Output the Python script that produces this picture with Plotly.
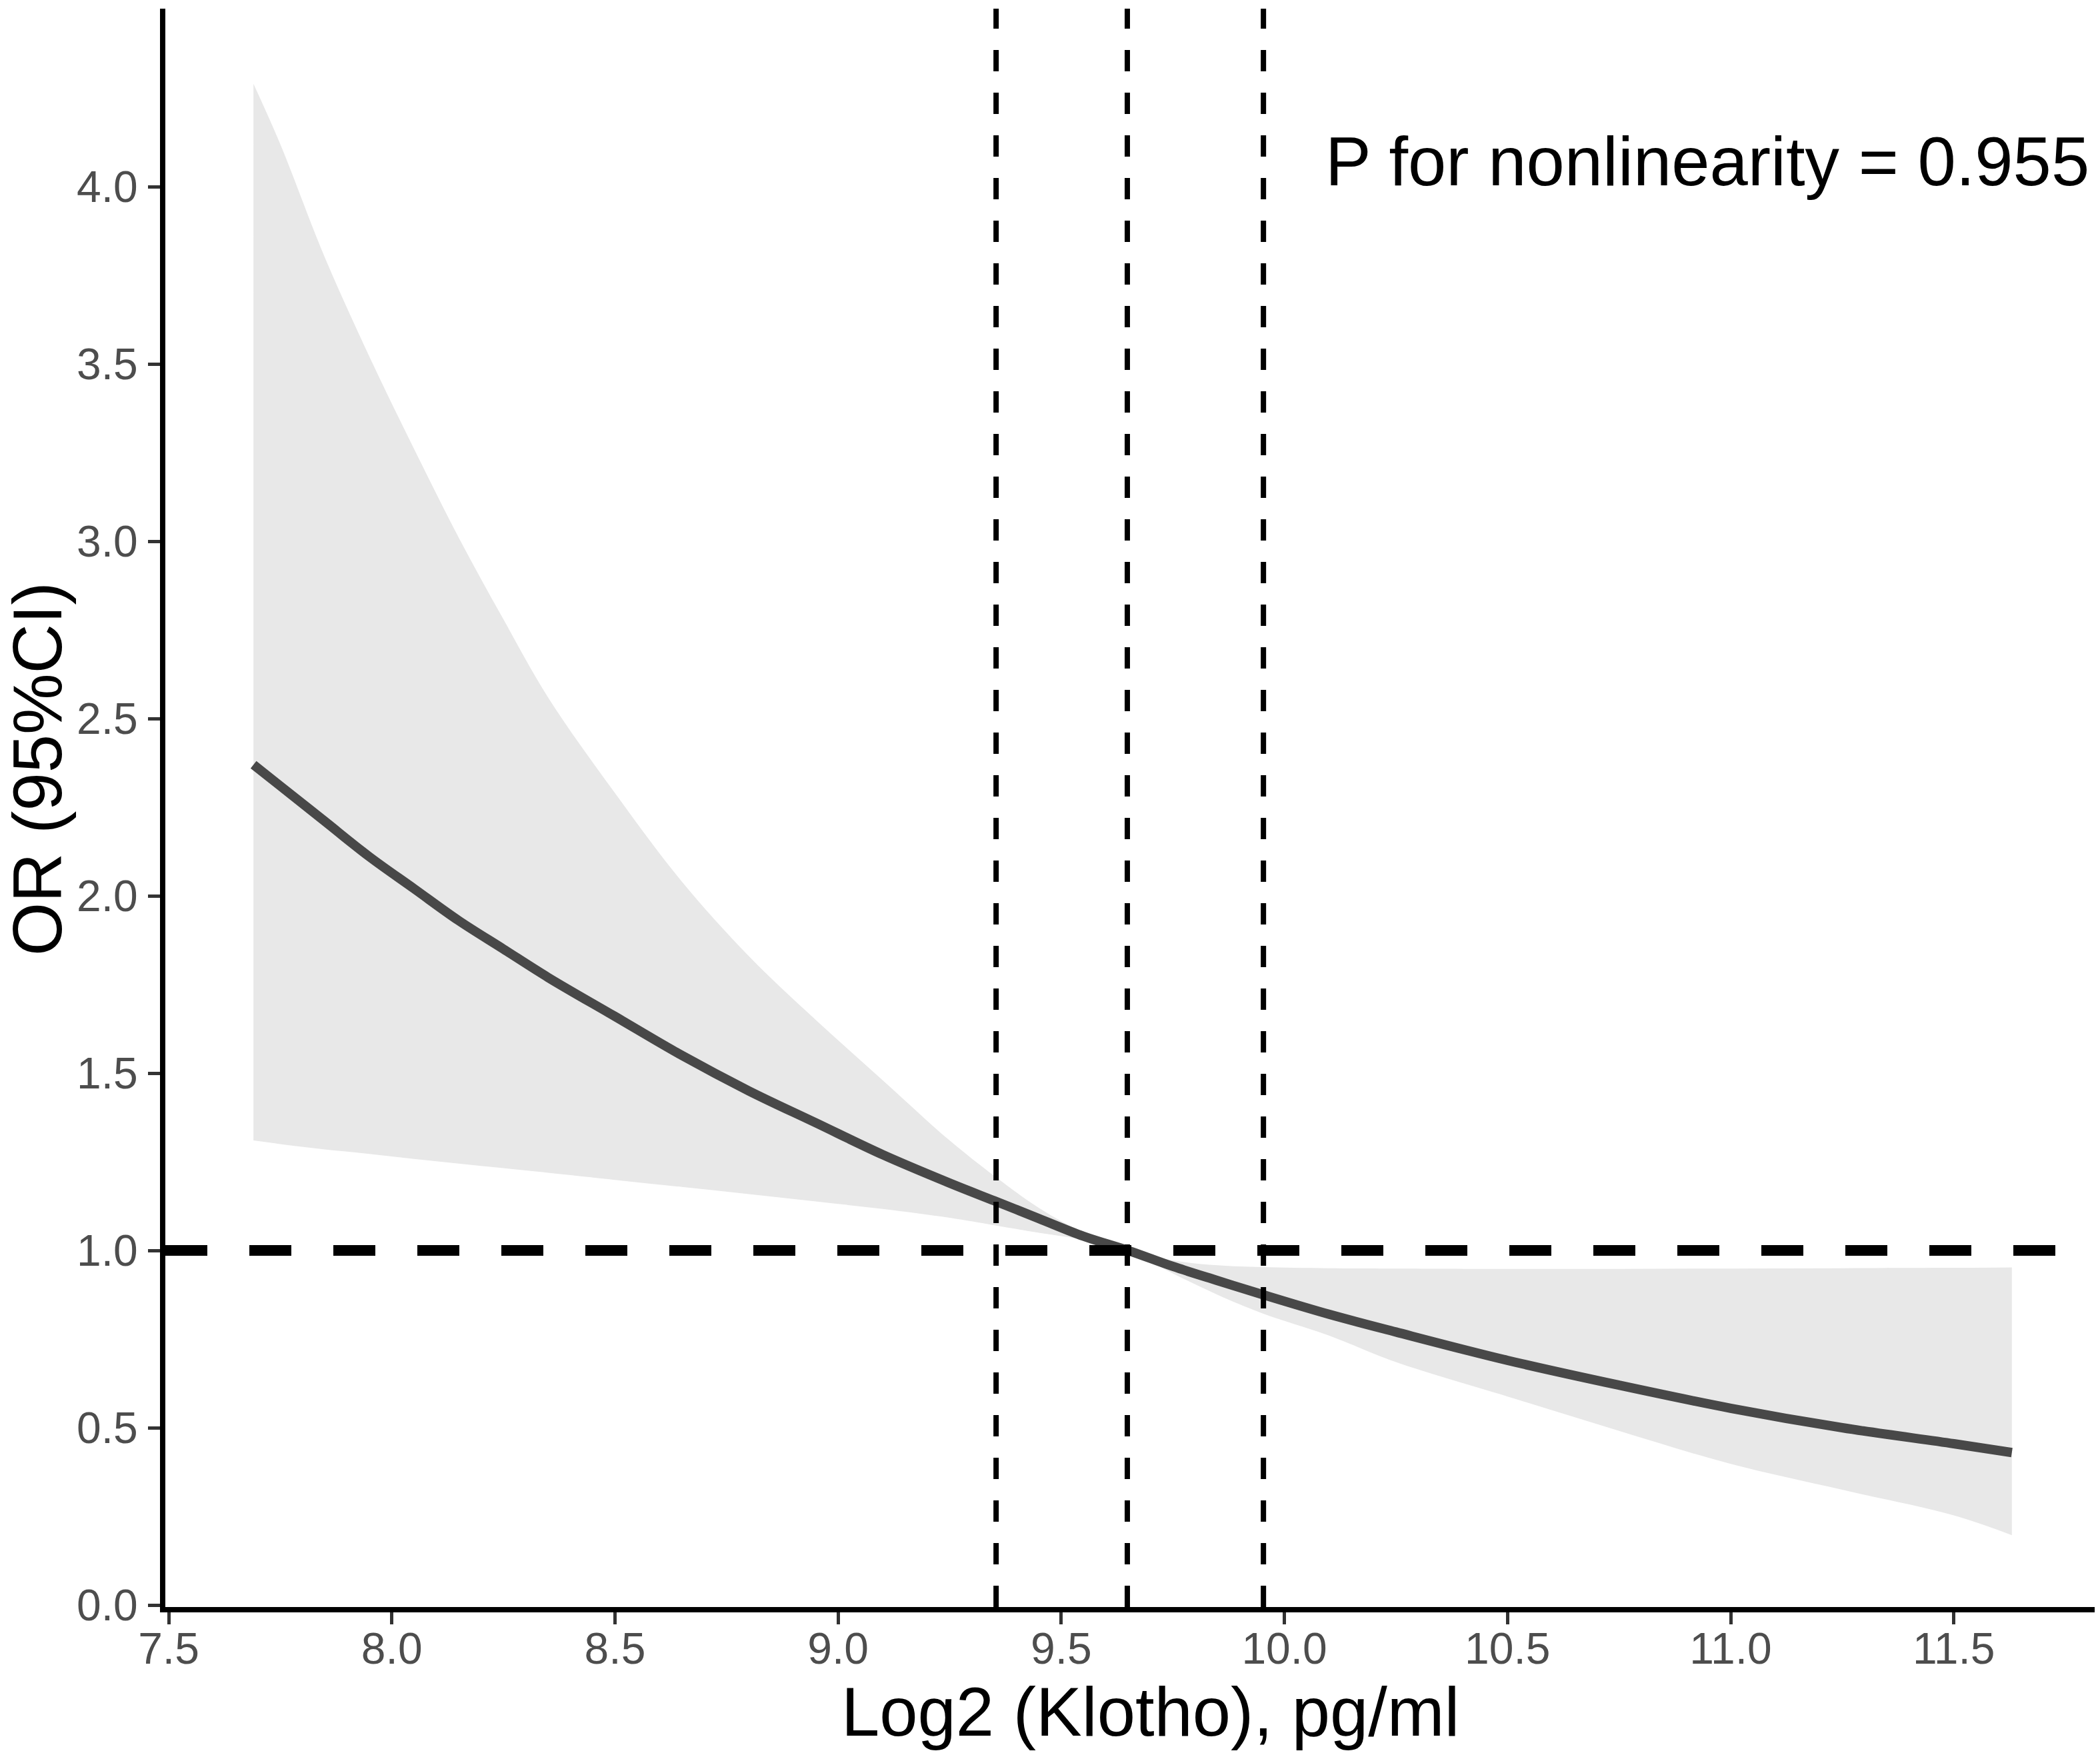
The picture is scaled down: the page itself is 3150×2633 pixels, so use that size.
import plotly.graph_objects as go

# values
klotho = [7.69, 7.75, 7.85, 7.95, 8.05, 8.15, 8.25, 8.35, 8.5, 8.65, 8.8, 8.95,
          9.1, 9.25, 9.35, 9.45, 9.55, 9.65, 9.75, 9.85, 9.95, 10.1, 10.25,
          10.5, 10.75, 11.0, 11.25, 11.5, 11.63]
or_fit = [2.37, 2.31, 2.21, 2.11, 2.02, 1.93, 1.85, 1.77, 1.66, 1.55, 1.45, 1.36,
          1.27, 1.19, 1.14, 1.09, 1.04, 1.00, 0.955, 0.915, 0.876, 0.82, 0.77,
          0.69, 0.62, 0.555, 0.50, 0.455, 0.43]
or_upper = [4.29, 4.12, 3.80, 3.52, 3.26, 3.01, 2.78, 2.56, 2.29, 2.04, 1.83, 1.65,
            1.48, 1.31, 1.21, 1.12, 1.05, 1.00, 0.972, 0.958, 0.953, 0.950, 0.949,
            0.948, 0.948, 0.949, 0.950, 0.951, 0.952]
or_lower = [1.31, 1.30, 1.285, 1.272, 1.258, 1.245, 1.232, 1.219, 1.199, 1.179, 1.159, 1.138,
            1.117, 1.092, 1.071, 1.05, 1.03, 1.00, 0.935, 0.875, 0.823, 0.76, 0.685,
            0.588, 0.491, 0.398, 0.325, 0.253, 0.197]
quantile_cuts = [9.354, 9.648, 9.953]
ref_or = 1.0
x_ticks = [7.5, 8.0, 8.5, 9.0, 9.5, 10.0, 10.5, 11.0, 11.5]
y_ticks = [0.0, 0.5, 1.0, 1.5, 2.0, 2.5, 3.0, 3.5, 4.0]
p_text = "P for nonlinearity = 0.955"

W, H = 3150, 2633
L, R, T, B = 240, 9, 5, 230
plot_w, plot_h = W - L - R, H - T - B

fig = go.Figure()

# confidence band: lower edge first, upper edge filled down to it
fig.add_trace(go.Scatter(
    x=klotho, y=or_lower, mode="lines",
    line=dict(width=0, shape="spline", smoothing=1.0),
    hoverinfo="skip", showlegend=False,
))
fig.add_trace(go.Scatter(
    x=klotho, y=or_upper, mode="lines",
    line=dict(width=0, shape="spline", smoothing=1.0),
    fill="tonexty", fillcolor="#E8E8E8",
    hoverinfo="skip", showlegend=False,
))
fig.add_trace(go.Scatter(
    x=klotho, y=or_fit, mode="lines",
    line=dict(color="#484848", width=14, shape="spline", smoothing=1.0),
    showlegend=False,
))

for xc in quantile_cuts:
    fig.add_shape(type="line", xref="x", yref="y domain",
                  x0=xc, x1=xc, y0=0, y1=1,
                  line=dict(color="black", width=8, dash="32px,32px"))
fig.add_shape(type="line", xref="x domain", yref="y",
              x0=0, x1=1, y0=ref_or, y1=ref_or,
              line=dict(color="black", width=16, dash="63px,63px"))

font = "Liberation Sans, Arial, Helvetica, sans-serif"
tickfont = dict(family=font, size=66, color="#4D4D4D")

fig.update_xaxes(
    range=[7.4925, 11.826], tickvals=x_ticks, tickformat=".1f",
    showline=True, linecolor="black", linewidth=8,
    ticks="outside", ticklen=18, tickwidth=5, tickcolor="#333333",
    tickfont=tickfont, showgrid=False, zeroline=False, ticklabelstandoff=-20,
)
fig.update_yaxes(
    range=[-0.0056, 4.502], tickvals=y_ticks, tickformat=".1f",
    showline=True, linecolor="black", linewidth=8,
    ticks="outside", ticklen=18, tickwidth=5, tickcolor="#333333",
    tickfont=tickfont, showgrid=False, zeroline=False, ticklabelstandoff=2,
)

titlefont = dict(family=font, size=103, color="black")
fig.add_annotation(text="Log2 (Klotho), pg/ml", xref="paper", yref="paper",
                   x=(1718 - L) / plot_w, y=(H - B - 2560) / plot_h,
                   xanchor="center", yanchor="middle", showarrow=False, font=titlefont)
fig.add_annotation(text="OR (95%CI)", xref="paper", yref="paper", textangle=-90,
                   x=(48 - L) / plot_w, y=(H - B - 1145) / plot_h,
                   xanchor="center", yanchor="middle", showarrow=False, font=titlefont)
fig.add_annotation(text=p_text, xref="paper", yref="paper",
                   x=(3128 - L) / plot_w, y=(H - B - 234) / plot_h,
                   xanchor="right", yanchor="middle", showarrow=False, font=titlefont)

fig.update_layout(
    width=W, height=H,
    margin=dict(l=L, r=R, t=T, b=B),
    paper_bgcolor="white", plot_bgcolor="white",
    showlegend=False,
)

fig.write_html("out.html")
